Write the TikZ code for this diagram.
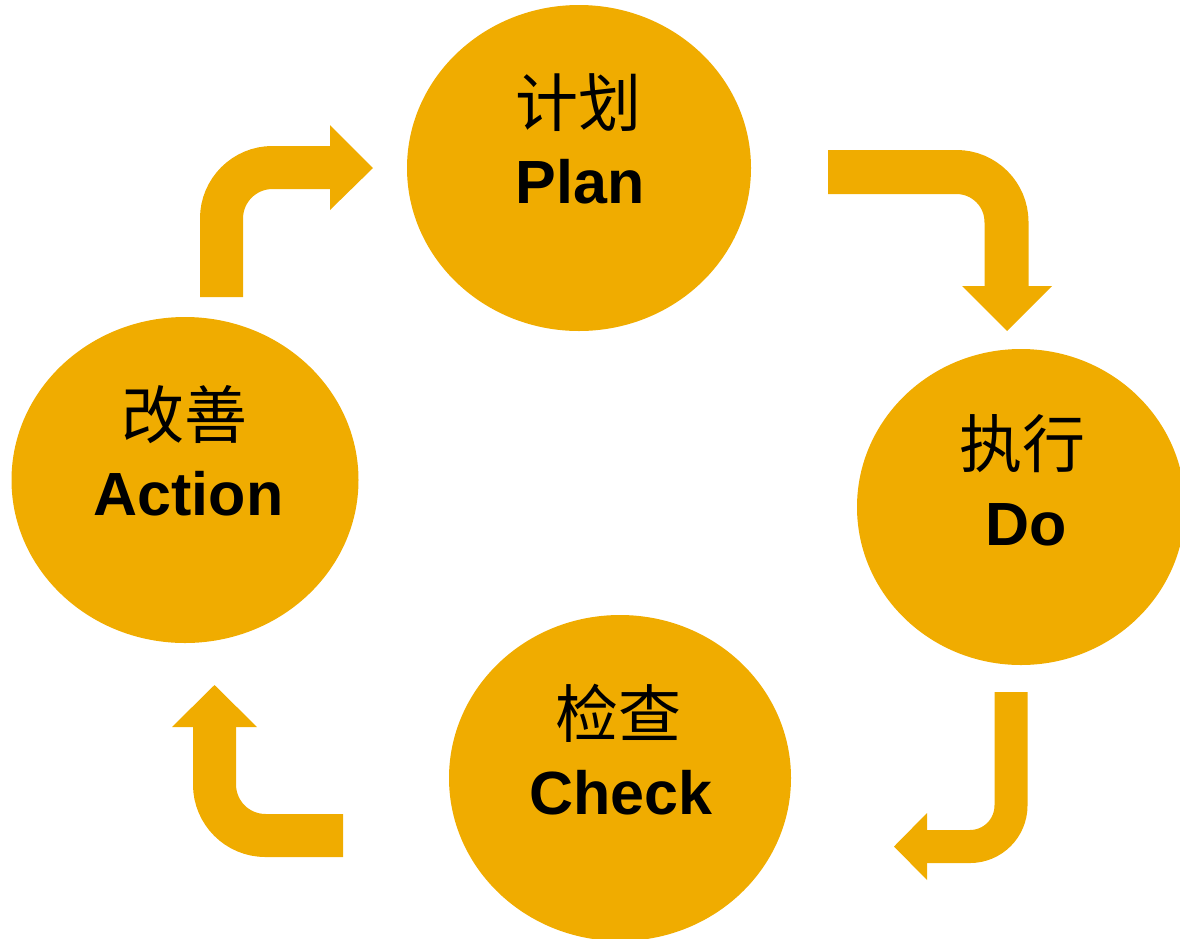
\documentclass[tikz,border=0pt]{standalone}
\usepackage{fontspec}
\setmainfont{Liberation Sans}
\newfontfamily\cjk{Noto Sans CJK SC}
\usetikzlibrary{shapes.geometric}
\definecolor{pdca}{HTML}{F0AC00}
\tikzset{
  phase/.style={ellipse, fill=pdca, draw=none, inner sep=0pt},
  zh/.style={font=\cjk\fontsize{63}{63}\selectfont, inner sep=0pt, anchor=center},
  en/.style={font=\bfseries\fontsize{61}{61}\selectfont, inner sep=0pt, anchor=base},
  shaft/.style={draw=pdca, line cap=butt, line join=miter},
  head/.style={fill=pdca, draw=none}
}
\begin{document}
\begin{tikzpicture}[x=1pt,y=-1pt]
\useasboundingbox (0,0) rectangle (1180,938);
\clip (0,0) rectangle (1180,938);
% phases
\node[phase, minimum width=344pt, minimum height=326pt] (plan) at (579,168) {};
\node[phase, minimum width=328pt, minimum height=316pt] (do) at (1021,507) {};
\node[phase, minimum width=342pt, minimum height=326pt] (check) at (620,778) {};
\node[phase, minimum width=347pt, minimum height=326pt] (act) at (185,480) {};
% labels
\node[zh] (planzh) at (578,103) {计划};
\node[en] (planen) at (580,203) {Plan};
\node[zh] (dozh) at (1022,444) {执行};
\node[en] (doen) at (1026,545) {Do};
\node[zh] (checkzh) at (618,713) {检查};
\node[en] (checken) at (621,814) {Check};
\node[zh] (actzh) at (184,415) {改善};
\node[en] (acten) at (188.5,515) {Action};
% arrow Action -> Plan
\coordinate (a1s) at (221.5,297);
\coordinate (a1c) at (221.5,167.5);
\coordinate (a1e) at (330,167.5);
\draw[shaft, line width=43pt, rounded corners=51pt] (a1s) -- (a1c) -- (a1e);
\fill[head] (330,125) -- (373,168) -- (330,210) -- cycle;
% arrow Plan -> Do
\coordinate (a2s) at (828,172);
\coordinate (a2c) at (1006.5,172);
\coordinate (a2e) at (1006.5,286);
\draw[shaft, line width=44pt, rounded corners=50pt] (a2s) -- (a2c) -- (a2e);
\fill[head] (962,286) -- (1052,286) -- (1007,331) -- cycle;
% arrow Do -> Check
\coordinate (a3s) at (1011,692);
\coordinate (a3c) at (1011,846.5);
\coordinate (a3e) at (927,846.5);
\draw[shaft, line width=33pt, rounded corners=41pt] (a3s) -- (a3c) -- (a3e);
\fill[head] (927,813) -- (894,846.5) -- (927,880) -- cycle;
% arrow Check -> Action
\coordinate (a4s) at (343,835.5);
\coordinate (a4c) at (214.5,835.5);
\coordinate (a4e) at (214.5,727);
\draw[shaft, line width=43pt, rounded corners=51pt] (a4s) -- (a4c) -- (a4e);
\fill[head] (172,727) -- (214.5,685) -- (257,727) -- cycle;
\end{tikzpicture}
\end{document}
